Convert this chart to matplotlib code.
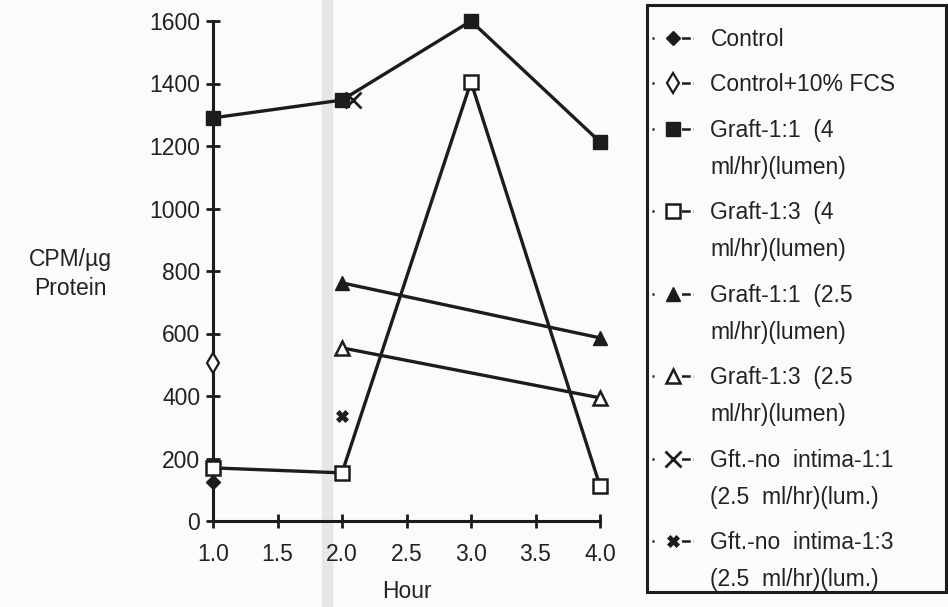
import matplotlib.pyplot as plt
from matplotlib.lines import Line2D
from matplotlib.patches import Rectangle
from matplotlib.legend_handler import HandlerLine2D

plt.rcParams['font.family'] = ['Liberation Sans', 'DejaVu Sans']

# values
hours = [1.0, 2.0, 3.0, 4.0]
control_x = [1.0]
control = [125]
control_fcs_x = [1.0]
control_fcs = [506]
graft11_4 = [1290, 1347, 1600, 1213]
graft13_4 = [170, 154, 1405, 112]
late_hours = [2.0, 4.0]
graft11_25 = [762, 586]
graft13_25 = [554, 394]
nointima11_x = [2.085]
nointima11 = [1347]
nointima13_x = [2.0]
nointima13 = [336]

labels = [
    'Control',
    'Control+10% FCS',
    'Graft-1:1  (4\nml/hr)(lumen)',
    'Graft-1:3  (4\nml/hr)(lumen)',
    'Graft-1:1  (2.5\nml/hr)(lumen)',
    'Graft-1:3  (2.5\nml/hr)(lumen)',
    'Gft.-no  intima-1:1\n(2.5  ml/hr)(lum.)',
    'Gft.-no  intima-1:3\n(2.5  ml/hr)(lum.)',
]
xticks = [1.0, 1.5, 2.0, 2.5, 3.0, 3.5, 4.0]
yticks = [0, 200, 400, 600, 800, 1000, 1200, 1400, 1600]

ink = '#1c1c1c'
txt = '#222222'
fs = 16.5
line_gap = 1.78


class TopHandler(HandlerLine2D):
    # put the symbol next to the first line of a two-line label
    def __init__(self, shift, **kw):
        super().__init__(**kw)
        self.shift = shift

    def create_artists(self, legend, orig_handle, xdescent, ydescent, width, height,
                       fontsize, trans):
        arts = super().create_artists(legend, orig_handle, xdescent, ydescent, width,
                                      height, fontsize, trans)
        for a in arts:
            a.set_ydata([y + self.shift for y in a.get_ydata()])
        return arts


fig = plt.figure(figsize=(9.48, 6.07), dpi=100, facecolor='#fbfbfb')
ax = fig.add_axes([213 / 948, 1 - 521 / 607, (600 - 213) / 948, 500 / 607])
ax.set_facecolor('none')

# faint scan streak near x = 2
fig.patches.append(Rectangle((322 / 948, 0), 10 / 948, 1, transform=fig.transFigure,
                             color='#e6e6e6', zorder=-5))

lw = 2.4
styles = [
    dict(marker='D', ms=7, mfc=ink, mec=ink),
    dict(marker='d', ms=10, mfc='white', mec=ink, mew=1.6),
    dict(marker='s', ms=10, mfc=ink, mec=ink),
    dict(marker='s', ms=10, mfc='white', mec=ink, mew=1.8),
    dict(marker='^', ms=10, mfc=ink, mec=ink),
    dict(marker='^', ms=10, mfc='white', mec=ink, mew=1.8),
    dict(marker='x', ms=11, mec=ink, mew=2.0),
    dict(marker='X', ms=8, mfc=ink, mec=ink, mew=0.5),
]
series = [
    (control_x, control),
    (control_fcs_x, control_fcs),
    (hours, graft11_4),
    (hours, graft13_4),
    (late_hours, graft11_25),
    (late_hours, graft13_25),
    (nointima11_x, nointima11),
    (nointima13_x, nointima13),
]
zorders = [3, 3, 4, 5, 4, 4, 6, 4]
for (xs, ys), st, z in zip(series, styles, zorders):
    ax.plot(xs, ys, color=ink, lw=lw, clip_on=False, zorder=z, **st)

ax.set_xlim(1.0, 4.0)
ax.set_ylim(0, 1600)
ax.set_xticks(xticks)
ax.set_xticklabels([f'{t:.1f}' for t in xticks])
ax.set_yticks(yticks)
for s in ['top', 'right']:
    ax.spines[s].set_visible(False)
for s in ['left', 'bottom']:
    ax.spines[s].set_linewidth(2.2)
    ax.spines[s].set_color(ink)
ax.tick_params(direction='inout', length=9.5, width=2.0, color=ink,
               labelsize=fs, labelcolor=txt)
ax.tick_params(axis='x', pad=11)
ax.tick_params(axis='y', pad=4.5)
ax.set_xlabel('Hour', fontsize=fs, color=txt, labelpad=10)
fig.text(70 / 948, 1 - 274 / 607, 'CPM/\u00b5g\nProtein', fontsize=fs, color=txt,
         ha='center', va='center', linespacing=1.3)

# legend frame and entries
fig.patches.append(Rectangle((647 / 948, 1 - 592 / 607), 299 / 948, 587 / 607,
                             transform=fig.transFigure, fill=False, ec=ink, lw=2.2))
handles = [Line2D([], [], color=ink, lw=1.8, dashes=(0.8, 11, 3.5, 1), **st) for st in styles]
shift = 0.5 * line_gap * 0.87 * fs + 2.5
hmap = {h: TopHandler(shift if '\n' in lab else 0) for h, lab in zip(handles, labels)}
leg = fig.legend(handles, labels, loc='upper left', bbox_to_anchor=(652 / 948, 1 - 28 / 607),
                 frameon=False, fontsize=fs, handlelength=1.8, handletextpad=0.75,
                 borderpad=0, borderaxespad=0, labelspacing=0.98, labelcolor=txt,
                 handler_map=hmap)
for t in leg.get_texts():
    t.set_linespacing(line_gap)

fig.savefig('out.png', dpi=100, facecolor=fig.get_facecolor())
